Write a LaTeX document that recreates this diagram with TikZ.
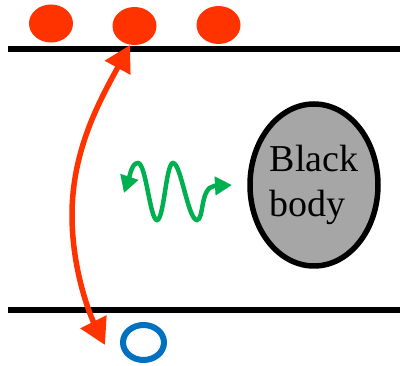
\documentclass[tikz,border=0pt]{standalone}
\usepackage{fontspec}
\setmainfont{Liberation Serif}
\usetikzlibrary{shapes.geometric, arrows.meta}
\definecolor{myred}{HTML}{FF3300}
\definecolor{mygreen}{HTML}{00B050}
\definecolor{myblue}{HTML}{0070C0}
\definecolor{mygray}{HTML}{A6A6A6}
\tikzset{
	dotnode/.style={
			ellipse,
			fill=myred,
			draw=none,
			minimum width=44pt,
			minimum height=38pt,
			inner sep=0pt
		},
	holenode/.style={
			ellipse,
			draw=myblue,
			line width=6pt,
			fill=none,
			minimum width=41pt,
			minimum height=35pt,
			inner sep=0pt
		},
	bodynode/.style={
			ellipse,
			draw=black,
			line width=5.5pt,
			fill=mygray,
			minimum width=128pt,
			minimum height=162pt,
			inner sep=0pt,
			align=left,
			font=\fontsize{38}{45}\selectfont
		},
	bandline/.style={
			line width=6pt,
			black
		}
}

\begin{document}
\begin{tikzpicture}[x=1pt, y=-1pt]
\useasboundingbox (0,0) rectangle (405,366);

\coordinate (t1) at (8,49);
\coordinate (t2) at (400,49);
\coordinate (b1) at (8,310.5);
\coordinate (b2) at (400,310.5);
\draw[bandline] (t1) -- (t2);
\draw[bandline] (b1) -- (b2);

\node[dotnode] (d1) at (51,23.5) {};
\node[dotnode] (d2) at (134.5,26) {};
\node[dotnode] (d3) at (218.5,25) {};

\node[holenode] (h) at (143.5,342.5) {};

\node[bodynode] (bb) at (314,185) {Black\\body};

\coordinate (up) at (130,45);
\coordinate (mid) at (72,215);
\coordinate (down) at (105,345);
\draw[line width=5.5pt, myred, {Triangle[length=26pt,width=28pt]}-{Triangle[length=26pt,width=28pt]}]
  (up) .. controls (100,100) and (72,150) .. (mid)
       .. controls (72,270) and (90,315) .. (down);

\coordinate (w0) at (124,193);
\coordinate (w1) at (232,185);
\draw[line width=4.5pt, mygreen, {Triangle[length=17pt,width=18pt]}-{Triangle[length=17pt,width=18pt]}]
  (w0) .. controls (130,175) and (132,163) .. (138,163)
       .. controls (146,163) and (150,220) .. (157,220)
       .. controls (164,220) and (166,163) .. (173,163)
       .. controls (181,163) and (188,220) .. (197,220)
       .. controls (204,220) and (200,188) .. (214,186) -- (w1);
\end{tikzpicture}
\end{document}
